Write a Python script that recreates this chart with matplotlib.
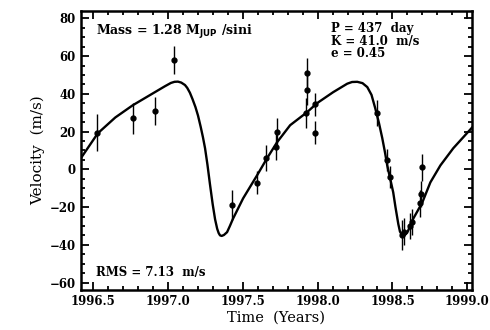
import numpy as np
import matplotlib
matplotlib.use("Agg")
import matplotlib.pyplot as plt
from matplotlib.ticker import MultipleLocator, FormatStrFormatter

# orbit fit
curve_t = [1996.42, 1996.533, 1996.65, 1996.767, 1996.914, 1996.98, 1997.021,
           1997.045, 1997.068, 1997.09, 1997.115, 1997.13, 1997.148, 1997.165,
           1997.185, 1997.202, 1997.22, 1997.235, 1997.249, 1997.265, 1997.282,
           1997.30, 1997.316, 1997.33, 1997.34, 1997.349, 1997.36, 1997.375,
           1997.396, 1997.415, 1997.436, 1997.503, 1997.596, 1997.663, 1997.730,
           1997.817, 1997.930, 1997.997, 1998.104, 1998.198, 1998.23, 1998.265,
           1998.30, 1998.332, 1998.36, 1998.385, 1998.41, 1998.432, 1998.45,
           1998.465, 1998.485, 1998.505, 1998.52, 1998.539, 1998.55, 1998.566,
           1998.58, 1998.599, 1998.639, 1998.699, 1998.753, 1998.820, 1998.906,
           1999.033]
curve_v = [5.9, 19.1, 27.5, 34.0, 40.9, 44.0, 45.8,
           46.4, 46.5, 46.0, 44.7, 43.2, 40.6, 37.3,
           33.0, 28.5, 22.5, 17.0, 11.2, 2.5, -8.0,
           -18.5, -26.5, -31.5, -33.8, -35.0, -35.3, -34.8,
           -33.3, -30.0, -26.1, -15.4, -3.2, 5.9, 14.4,
           23.4, 30.3, 35.1, 40.9, 45.4, 46.3, 46.4,
           45.7, 43.6, 39.5, 32.4, 24.5, 16.5, 9.0,
           2.1, -5.0, -12.2, -20.0, -29.0, -33.0, -35.1,
           -35.0, -33.5, -26.1, -17.6, -6.9, 2.1, 11.2,
           22.3]

# radial velocity measurements
obs_t = [1996.53, 1996.767, 1996.916, 1997.04, 1997.427, 1997.598, 1997.656,
         1997.72, 1997.728, 1997.924, 1997.928, 1997.928, 1997.984, 1997.98,
         1998.396, 1998.463, 1998.485, 1998.566, 1998.575, 1998.62, 1998.63,
         1998.682, 1998.69, 1998.70]
obs_v = [19.5, 27, 31, 58, -19, -7, 6,
         12, 20, 30, 42, 51, 34.5, 19.5,
         30, 5, -4, -35, -33, -30, -28,
         -18, -13, 1]
obs_err = [10, 8, 7.5, 7.5, 8, 6, 7,
           7, 7, 8, 8, 8, 6, 6,
           7, 6, 6, 8, 7, 7, 7,
           7, 7, 7]

plt.rcParams['font.family'] = ['DejaVu Serif']
plt.rcParams['font.weight'] = 'bold'

fig = plt.figure(figsize=(4.9, 3.3), dpi=100)
ax = fig.add_axes([0.165, 0.121, 0.798, 0.846])

ax.plot(curve_t, curve_v, color='black', lw=1.7, solid_joinstyle='round')
ax.errorbar(obs_t, obs_v, yerr=obs_err, fmt='o', color='black',
            markersize=3.5, elinewidth=1, capsize=0)

ax.set_xlim(1996.42, 1999.03)
ax.set_ylim(-64, 84)
ax.xaxis.set_major_locator(MultipleLocator(0.5))
ax.xaxis.set_minor_locator(MultipleLocator(0.1))
ax.xaxis.set_major_formatter(FormatStrFormatter('%.1f'))
ax.yaxis.set_major_locator(MultipleLocator(20))
ax.yaxis.set_minor_locator(MultipleLocator(5))
ax.tick_params(which='both', direction='in', top=True, right=True, width=1.3,
               labelsize=8.5)
ax.tick_params(which='major', length=6)
ax.tick_params(which='minor', length=3)
for s in ax.spines.values():
    s.set_linewidth(1.8)

ax.set_xlabel('Time  (Years)', fontsize=10.5, labelpad=2)
ax.set_ylabel('Velocity  (m/s)', fontsize=11, labelpad=3)

ax.text(0.04, 0.915, r'Mass = 1.28 M$_{\rm JUP}$ /sini', transform=ax.transAxes,
        fontsize=9)
ax.text(0.64, 0.96, 'P = 437  day\nK = 41.0  m/s\ne = 0.45',
        transform=ax.transAxes, fontsize=8.5, va='top', linespacing=0.95)
ax.text(0.04, 0.05, 'RMS = 7.13  m/s', transform=ax.transAxes, fontsize=8.5)

fig.savefig('out.png', dpi=100)
